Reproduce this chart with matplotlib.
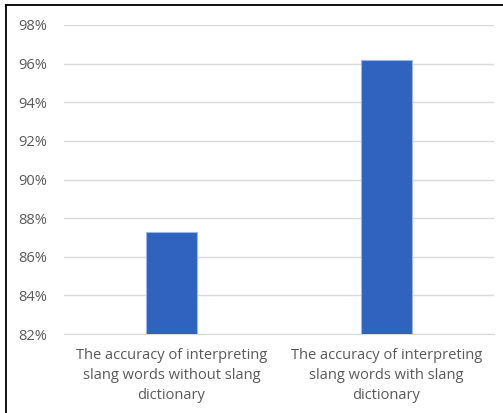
import matplotlib.pyplot as plt
from matplotlib.ticker import FuncFormatter
from matplotlib.lines import Line2D

# Chart data
categories = ["The accuracy of interpreting\nslang words without slang\ndictionary",
              "The accuracy of interpreting\nslang words with slang\ndictionary"]
accuracy = [87.3, 96.2]
y_ticks = [82, 84, 86, 88, 90, 92, 94, 96, 98]

plt.rcParams['font.family'] = ['Open Sans', 'DejaVu Sans']

fig = plt.figure(figsize=(5.03, 4.13), dpi=100)
ax = fig.add_axes([0.127, 0.191, 0.855, 0.7485])

x = list(range(len(categories)))
ax.bar(x, accuracy, width=0.24, bottom=0, color='#2F63BF', edgecolor='#9AB6E6',
       linewidth=0.8, zorder=3)

ax.set_ylim(82, 98)
ax.set_xlim(-0.5, 1.5)
ax.set_yticks(y_ticks)
ax.yaxis.set_major_formatter(FuncFormatter(lambda v, p: '%d%%' % v))
ax.set_xticks(x)
ax.set_xticklabels(categories, fontsize=10.5, color='#595959', linespacing=1.45)
ax.tick_params(axis='y', labelsize=10.5, labelcolor='#595959', length=0, pad=12)
ax.tick_params(axis='x', length=0, pad=10)

ax.grid(axis='y', color='#D9D9D9', linewidth=1, zorder=0)
for s in ['top', 'right', 'left']:
    ax.spines[s].set_visible(False)
ax.spines['bottom'].set_color('#D9D9D9')

# Frame lines at top and left of the image
fig.add_artist(Line2D([6 / 503, 6 / 503], [0, 1 - 5 / 413], color='black', linewidth=1.3))
fig.add_artist(Line2D([6 / 503, 1], [1 - 5 / 413, 1 - 5 / 413], color='black', linewidth=1.3))

fig.savefig('out.png', dpi=100)
